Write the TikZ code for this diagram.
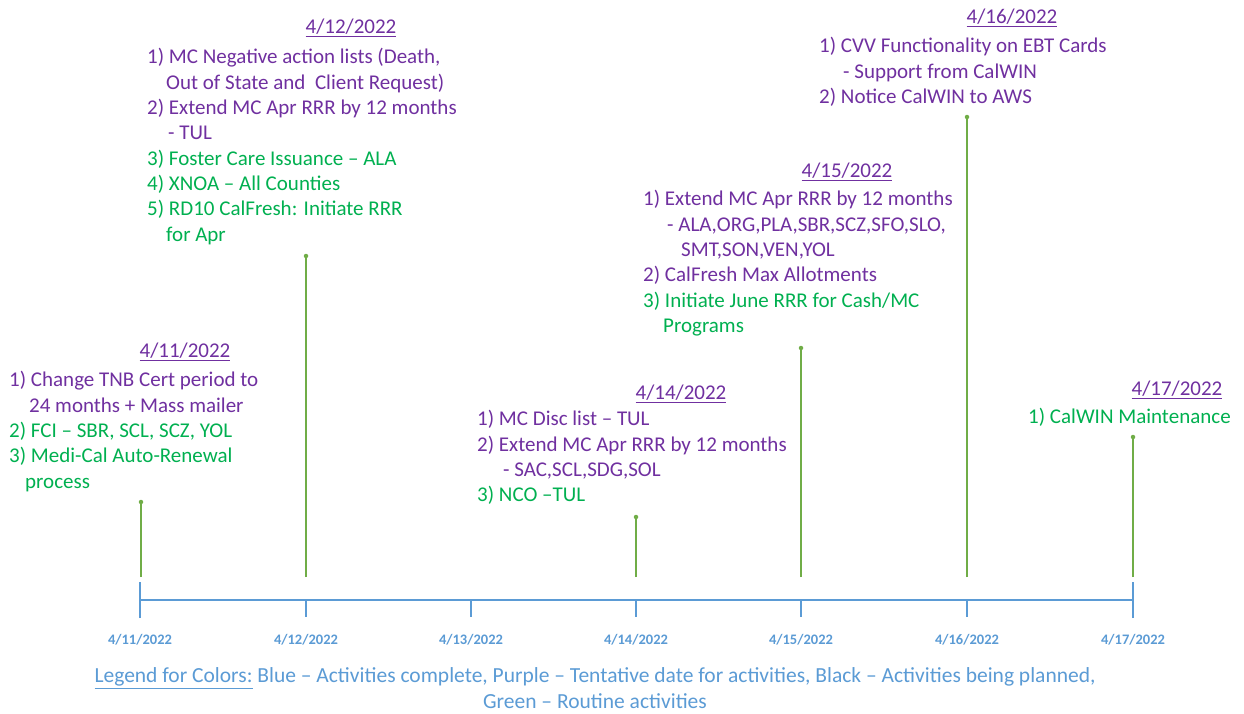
\documentclass[tikz,border=0pt]{standalone}
\usepackage{fontspec}
\setmainfont{Carlito}
\definecolor{tpurple}{RGB}{112,48,160}
\definecolor{tgreen}{RGB}{0,176,80}
\definecolor{stemgreen}{RGB}{112,173,71}
\definecolor{axblue}{RGB}{91,155,213}
\newcommand{\ind}[1]{\hspace*{#1pt}}
\begin{document}
\begin{tikzpicture}[x=1pt,y=-1pt,
  block/.style={anchor=north west,align=left,inner sep=0pt,font=\fontsize{21}{25.3}\selectfont},
  datetitle/.style={anchor=center,inner sep=0pt,text=tpurple,font=\fontsize{21}{25.3}\selectfont},
  axlabel/.style={anchor=center,inner sep=0pt,text=axblue,font=\bfseries\fontsize{14.5}{17}\selectfont},
  stemline/.style={draw=stemgreen,line width=1.3pt},
  stemdot/.style={circle,fill=stemgreen,inner sep=0pt,minimum size=4.5pt},
  axisline/.style={draw=axblue,line width=1.4pt},
  legendtext/.style={anchor=center,align=center,inner sep=0pt,text=axblue,font=\fontsize{21.5}{25.5}\selectfont}]
\useasboundingbox (0,0) rectangle (1244,713);
\fill[white] (0,0) rectangle (1244,713);

% axis
\coordinate (t1) at (140,600);
\coordinate (t2) at (306,600);
\coordinate (t3) at (471,600);
\coordinate (t4) at (636,600);
\coordinate (t5) at (801,600);
\coordinate (t6) at (967,600);
\coordinate (t7) at (1133,600);
\draw[axisline] (t1) -- (t7);
\draw[axisline] ([yshift=-18pt]t1) -- ([yshift=18pt]t1);
\draw[axisline] ([yshift=-18pt]t7) -- ([yshift=18pt]t7);
\foreach \i in {2,...,6} \draw[axisline] (t\i) -- ([yshift=-17pt]t\i);

\node[axlabel] (l1) at (140,640) {4/11/2022};
\node[axlabel] (l2) at (306,640) {4/12/2022};
\node[axlabel] (l3) at (471,640) {4/13/2022};
\node[axlabel] (l4) at (636,640) {4/14/2022};
\node[axlabel] (l5) at (801,640) {4/15/2022};
\node[axlabel] (l6) at (967,640) {4/16/2022};
\node[axlabel] (l7) at (1133,640) {4/17/2022};

% stems
\coordinate (b1) at (141,577);
\coordinate (b2) at (306,577);
\coordinate (b4) at (636,577);
\coordinate (b5) at (801,577);
\coordinate (b6) at (967,577);
\coordinate (b7) at (1133,577);
\node[stemdot] (d1) at (141,502) {};
\node[stemdot] (d2) at (306,256) {};
\node[stemdot] (d4) at (636,517) {};
\node[stemdot] (d5) at (801,348) {};
\node[stemdot] (d6) at (967,117) {};
\node[stemdot] (d7) at (1133,437) {};
\foreach \i in {1,2,4,5,6,7} \draw[stemline] (b\i) -- (d\i.center);

% 4/11
\node[datetitle] (h1) at (185,352) {\underline{4/11/2022}};
\node[block] (a1) at (9,369) {%
\textcolor{tpurple}{\strut 1) Change TNB Cert period to}\\
\textcolor{tpurple}{\ind{20}24 months + Mass mailer}\\
\textcolor{tgreen}{2) FCI -- SBR, SCL, SCZ, YOL}\\
\textcolor{tgreen}{3) Medi-Cal Auto-Renewal}\\
\textcolor{tgreen}{\ind{16}process}};

% 4/12
\node[datetitle] (h2) at (351,28) {\underline{4/12/2022}};
\node[block] (a2) at (147,46) {%
\textcolor{tpurple}{\strut 1) MC Negative action lists (Death,}\\
\textcolor{tpurple}{\ind{19}Out of State and\ \ Client Request)}\\
\textcolor{tpurple}{2) Extend MC Apr RRR by 12 months}\\
\textcolor{tpurple}{\ind{21}- TUL}\\
\textcolor{tgreen}{3) Foster Care Issuance -- ALA}\\
\textcolor{tgreen}{4) XNOA -- All Counties}\\
\textcolor{tgreen}{5) RD10 CalFresh: Initiate RRR}\\
\textcolor{tgreen}{\ind{19}for Apr}};

% 4/14
\node[datetitle] (h4) at (681,394) {\underline{4/14/2022}};
\node[block] (a4) at (477,408) {%
\textcolor{tpurple}{\strut 1) MC Disc list -- TUL}\\
\textcolor{tpurple}{2) Extend MC Apr RRR by 12 months}\\
\textcolor{tpurple}{\ind{26}- SAC,SCL,SDG,SOL}\\
\textcolor{tgreen}{3) NCO --TUL}};

% 4/15
\node[datetitle] (h5) at (847,172) {\underline{4/15/2022}};
\node[block] (a5) at (643,188) {%
\textcolor{tpurple}{\strut 1) Extend MC Apr RRR by 12 months}\\
\textcolor{tpurple}{\ind{24}- ALA,ORG,PLA,SBR,SCZ,SFO,SLO,}\\
\textcolor{tpurple}{\ind{38}SMT,SON,VEN,YOL}\\
\textcolor{tpurple}{2) CalFresh Max Allotments}\\
\textcolor{tgreen}{3) Initiate June RRR for Cash/MC}\\
\textcolor{tgreen}{\ind{20}Programs}};

% 4/16
\node[datetitle] (h6) at (1012,18) {\underline{4/16/2022}};
\node[block] (a6) at (819,35) {%
\textcolor{tpurple}{\strut 1) CVV Functionality on EBT Cards}\\
\textcolor{tpurple}{\ind{24}- Support from CalWIN}\\
\textcolor{tpurple}{2) Notice CalWIN to AWS}};

% 4/17
\node[datetitle] (h7) at (1177,390) {\underline{4/17/2022}};
\node[block] (a7) at (1028,406) {%
\textcolor{tgreen}{\strut 1) CalWIN Maintenance}};

% legend
\node[legendtext] (lg) at (595,688) {\underline{Legend for Colors:} Blue -- Activities complete, Purple -- Tentative date for activities, Black -- Activities being planned,\\ Green -- Routine activities};
\end{tikzpicture}
\end{document}
